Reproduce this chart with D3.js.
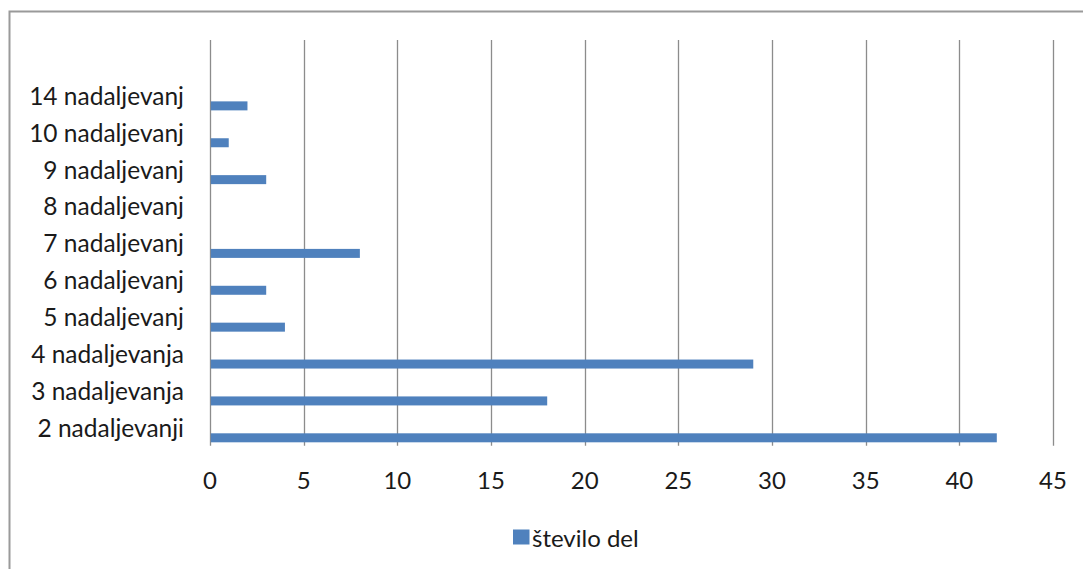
<!DOCTYPE html>
<html>
<head>
<meta charset="utf-8">
<script src="https://cdn.jsdelivr.net/npm/d3@7"></script>
<style>
  html, body { margin: 0; padding: 0; background: #fff; }
  svg { display: block; }
  text { font-family: Lato, "Noto Sans", sans-serif; fill: #1a1a1a; }
</style>
</head>
<body>
<svg id="chart" width="1083" height="569"></svg>
<script>
// Number of works by how many sequels they have (bottom to top)
const categories = ["2 nadaljevanji", "3 nadaljevanja", "4 nadaljevanja", "5 nadaljevanj",
  "6 nadaljevanj", "7 nadaljevanj", "8 nadaljevanj", "9 nadaljevanj", "10 nadaljevanj", "14 nadaljevanj"];
const values = [42, 18, 29, 4, 3, 8, 0, 3, 1, 2];
const xTicks = [0, 5, 10, 15, 20, 25, 30, 35, 40, 45];
const seriesName = "število del";

const W = 1083, H = 569;
const svg = d3.select("#chart");
const blue = "#4f81bd";
const grid = "#8c8c8c";

// chart frame
svg.append("rect")
  .attr("x", 9.5).attr("y", 11.5)
  .attr("width", W + 20).attr("height", H + 20)
  .attr("fill", "none").attr("stroke", "#9a9a9a").attr("stroke-width", 2);

const plotTop = 40, plotBottom = 445.7;
const x = d3.scaleLinear().domain([0, 45]).range([210, 1053]);
// an empty slot sits above the last category
const y = d3.scaleBand()
  .domain(["", ...categories.slice().reverse()])
  .range([plotTop, plotBottom])
  .padding(0);
const bw = y.bandwidth();

// vertical gridlines (the one at 0 doubles as the category axis)
svg.append("g")
  .selectAll("line")
  .data(xTicks)
  .join("line")
  .attr("x1", d => Math.round(x(d)) + 0.5)
  .attr("x2", d => Math.round(x(d)) + 0.5)
  .attr("y1", plotTop)
  .attr("y2", plotBottom)
  .attr("stroke", grid)
  .attr("stroke-width", 1.3);

// x tick labels
svg.append("g")
  .selectAll("text")
  .data(xTicks)
  .join("text")
  .attr("x", d => x(d))
  .attr("y", 479)
  .attr("text-anchor", "middle")
  .attr("dominant-baseline", "central")
  .attr("font-size", 24)
  .text(d => d);

// category labels
svg.append("g")
  .selectAll("text")
  .data(categories)
  .join("text")
  .attr("x", 184)
  .attr("y", d => y(d) + bw / 2)
  .attr("text-anchor", "end")
  .attr("dominant-baseline", "central")
  .attr("font-size", 24.5)
  .text(d => d);

// bars, sitting in the lower part of each band
svg.append("g")
  .selectAll("rect")
  .data(categories.map((c, i) => ({ c, v: values[i] })).filter(d => d.v > 0))
  .join("rect")
  .attr("x", x(0) + 0.8)
  .attr("y", d => y(d.c) + bw * 0.664)
  .attr("width", d => x(d.v) - x(0) - 0.8)
  .attr("height", bw * 0.244)
  .attr("fill", blue);

// legend
const lg = svg.append("g");
lg.append("rect")
  .attr("x", 513).attr("y", 529.5)
  .attr("width", 16.5).attr("height", 15)
  .attr("fill", blue);
lg.append("text")
  .attr("x", 532)
  .attr("y", 537)
  .attr("dominant-baseline", "central")
  .attr("font-size", 24)
  .text(seriesName);
</script>
</body>
</html>
